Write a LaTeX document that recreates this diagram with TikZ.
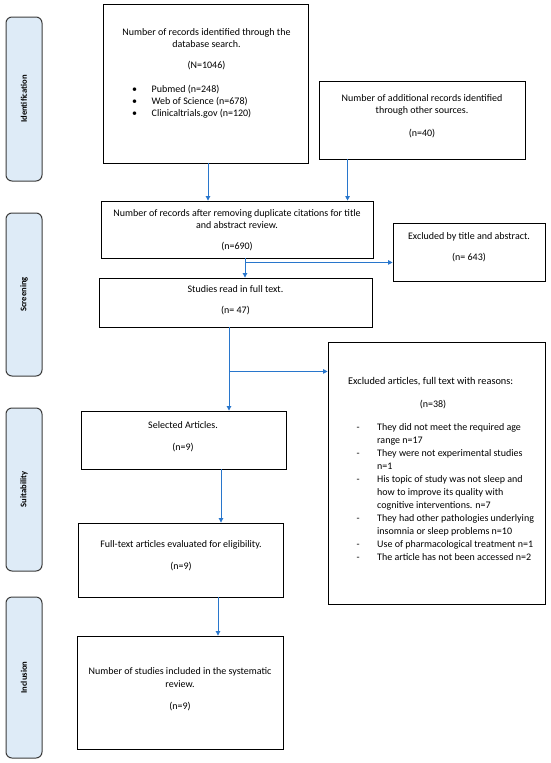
\documentclass[tikz,border=0pt]{standalone}
\usepackage{fontspec}
\setmainfont{Carlito}
\usetikzlibrary{arrows.meta,calc}
\definecolor{arrowblue}{RGB}{40,118,204}
\definecolor{lanefill}{RGB}{222,235,247}
\definecolor{laneedge}{RGB}{60,60,60}
\begin{document}
\begin{tikzpicture}[x=1pt,y=-1pt,
  box/.style={draw=black,line width=0.9pt,inner sep=0pt},
  lane/.style={draw=laneedge,line width=1pt,fill=lanefill,rounded corners=6pt,inner sep=0pt,minimum width=36pt},
  lanelabel/.style={font=\fontsize{8.6}{9}\selectfont\bfseries,rotate=90,inner sep=0pt},
  txt/.style={font=\fontsize{10}{12.5}\selectfont,align=center,inner sep=0pt},
  ltxt/.style={font=\fontsize{10}{12.3}\selectfont,align=left,inner sep=0pt},
  xtxt/.style={font=\fontsize{10}{13}\selectfont,align=left,inner sep=0pt},
  arr/.style={draw=arrowblue,line width=0.9pt,-{Triangle[length=4.5pt,width=4.5pt]}}]
\useasboundingbox (0,0) rectangle (550,763);
\fill[white] (0,0) rectangle (550,763);

% lanes
\node[lane,minimum height=164pt] (L1) at (24,99) {};
\node[lanelabel] (L1t) at (L1.center) {Identification};
\node[lane,minimum height=163pt] (L2) at (24,294.5) {};
\node[lanelabel] (L2t) at (L2.center) {Screening};
\node[lane,minimum height=163pt] (L3) at (24,489.5) {};
\node[lanelabel] (L3t) at (L3.center) {Suitability};
\node[lane,minimum height=161pt] (L4) at (24,677.5) {};
\node[lanelabel] (L4t) at (L4.center) {Inclusion};

% boxes
\node[box,minimum width=205pt,minimum height=159pt] (b1) at (205.5,83.5) {};
\node[box,minimum width=206pt,minimum height=78pt] (b2) at (422,120) {};
\node[box,minimum width=272pt,minimum height=57pt] (b3) at (237,229.5) {};
\node[box,minimum width=152pt,minimum height=58pt] (ex1) at (469,252) {};
\node[box,minimum width=273pt,minimum height=49pt] (b4) at (235.5,302.5) {};
\node[box,minimum width=217pt,minimum height=262pt] (ex2) at (436.5,473) {};
\node[box,minimum width=205pt,minimum height=58pt] (b5) at (183.5,440) {};
\node[box,minimum width=205pt,minimum height=74pt] (b6) at (180.5,560) {};
\node[box,minimum width=206pt,minimum height=113pt] (b7) at (180,692.5) {};

% texts
\node[txt] (t1) at (206.5,38) {Number of records identified through the\\database search.};
\node[txt] (t1n) at (206.5,65.5) {(N=1046)};
\node[ltxt,anchor=west] (t1l) at (132,101.7) {\makebox[19.5pt][l]{\textbullet}Pubmed (n=248)\\\makebox[19.5pt][l]{\textbullet}Web of Science (n=678)\\\makebox[19.5pt][l]{\textbullet}Clinicaltrials.gov (n=120)};

\node[txt] (t2) at (422,105) {Number of additional records identified\\through other sources.};
\node[txt] (t2n) at (422,134) {(n=40)};

\node[txt] (t3) at (237,219) {Number of records after removing duplicate citations for title\\and abstract review.};
\node[txt] (t3n) at (237,247) {(n=690)};

\node[txt] (te1) at (469,237) {Excluded by title and abstract.};
\node[txt] (te1n) at (469,258) {(n= 643)};

\node[txt] (t4) at (235.5,289) {Studies read in full text.};
\node[txt] (t4n) at (235.5,311) {(n= 47)};

\node[xtxt,anchor=west,font=\fontsize{10.3}{13}\selectfont] (te2) at (348,382) {Excluded articles, full text with reasons:};
\node[xtxt] (te2n) at (433,405) {(n=38)};
\node[xtxt,anchor=west] (te2l) at (356.5,492) {%
\makebox[20.5pt][l]{-}They did not meet the required age\\
\hspace*{20.5pt}range n=17\\
\makebox[20.5pt][l]{-}They were not experimental studies\\
\hspace*{20.5pt}n=1\\
\makebox[20.5pt][l]{-}His topic of study was not sleep and\\
\hspace*{20.5pt}how to improve its quality with\\
\hspace*{20.5pt}cognitive interventions. n=7\\
\makebox[20.5pt][l]{-}They had other pathologies underlying\\
\hspace*{20.5pt}insomnia or sleep problems n=10\\
\makebox[20.5pt][l]{-}Use of pharmacological treatment n=1\\
\makebox[20.5pt][l]{-}The article has not been accessed n=2};

\node[txt] (t5) at (183,425) {Selected Articles.};
\node[txt] (t5n) at (183,448) {(n=9)};

\node[txt] (t6) at (181,545) {Full-text articles evaluated for eligibility.};
\node[txt] (t6n) at (181,567) {(n=9)};

\node[txt] (t7) at (180,677.5) {Number of studies included in the systematic\\review.};
\node[txt] (t7n) at (180,707) {(n=9)};

% connectors
\draw[arr] ([xshift=2.5pt]b1.south) -- ([xshift=2.5pt]b1.south |- b3.north);
\draw[arr] ([xshift=29pt]b2.south west) -- ([xshift=29pt]b2.south west |- b3.north);
\coordinate (j1) at ([xshift=8pt,yshift=-4pt]b3.south);
\draw[arr] ([xshift=8pt]b3.south) -- ([xshift=8pt]b3.south |- b4.north);
\draw[arr] (j1) -- (j1 -| ex1.west);
\coordinate (j2) at ([xshift=-6.5pt,yshift=-44pt]b4.south);
\draw[arr] ([xshift=-6.5pt]b4.south) -- ([xshift=-6.5pt]b4.south |- b5.north);
\draw[arr] (j2) -- (j2 -| ex2.west);
\draw[arr] ([xshift=37.5pt]b5.south) -- ([xshift=37.5pt]b5.south |- b6.north);
\draw[arr] ([xshift=37.5pt]b6.south) -- ([xshift=37.5pt]b6.south |- b7.north);
\end{tikzpicture}
\end{document}
